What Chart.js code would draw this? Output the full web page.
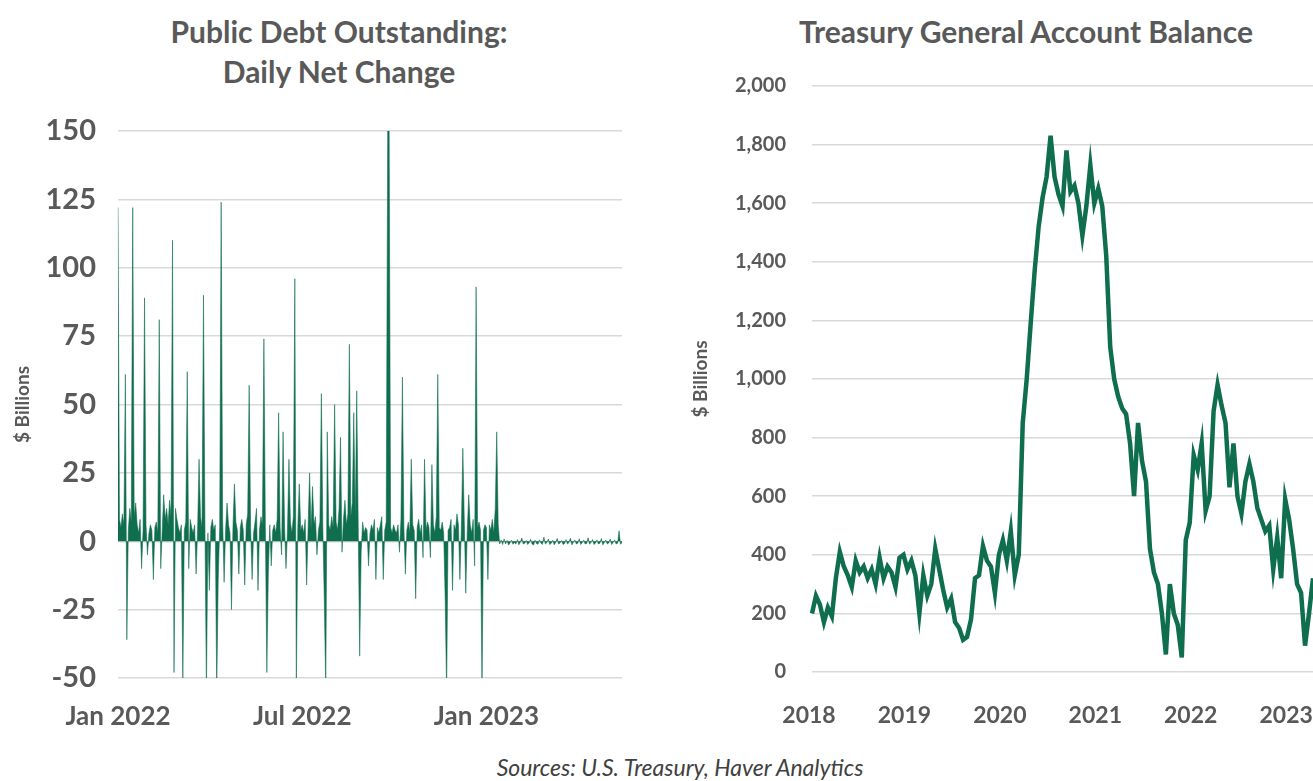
<!DOCTYPE html>
<html>
<head>
  <meta charset="UTF-8">
  <title>Public Debt Outstanding / Treasury General Account</title>
  <script src="https://cdn.jsdelivr.net/npm/chart.js@4.4.1/dist/chart.umd.min.js"></script>
  <style>
    html, body { margin: 0; padding: 0; background: #fff; overflow: hidden; }
    body { width: 1313px; height: 781px; position: relative; font-family: Lato, sans-serif; }
    .title { position: absolute; color: #595959; font-weight: bold; font-size: 30px; text-align: center; line-height: 40px; }
    #leftTitle { left: 119px; width: 440px; top: 11px; }
    #rightTitle { left: 756px; width: 540px; top: 11px; }
    #source { position: absolute; left: 330px; width: 700px; top: 753px; text-align: center;
              font-style: italic; font-size: 23px; color: #404040; }
    .box { position: absolute; top: 0; height: 740px; }
    #leftBox { left: 0; width: 640px; }
    #rightBox { left: 678px; width: 635px; }
  </style>
</head>
<body>
  <div class="title" id="leftTitle">Public Debt Outstanding:<br>Daily Net Change</div>
  <div class="title" id="rightTitle">Treasury General Account Balance</div>
  <div class="box" id="leftBox"><canvas id="debtChart"></canvas></div>
  <div class="box" id="rightBox"><canvas id="tgaChart"></canvas></div>
  <div id="source">Sources: U.S. Treasury, Haver Analytics</div>

  <script>
    // public debt outstanding, daily net change ($ billions), one list per month
    const debtMonths = ['Jan 2022', 'Feb 2022', 'Mar 2022', 'Apr 2022', 'May 2022', 'Jun 2022',
                        'Jul 2022', 'Aug 2022', 'Sep 2022', 'Oct 2022', 'Nov 2022', 'Dec 2022',
                        'Jan 2023', 'Feb 2023', 'Mar 2023', 'Apr 2023', 'May 2023'];
    const jan22 = [122, 8, 5, 10, 6, 61, -36, 4, 12, 7, 122, 9, 14, 6, 3, 8, -10, 4, 89, 6];
    const feb22 = [-5, 3, 6, 4, -14, 5, 7, 3, 81, -10, 4, 17, 8, 12, 6, 15, 9, 110, -48];
    const mar22 = [12, 8, 5, 3, 6, -52, 4, 7, 62, -10, 8, 5, 3, 6, -12, 4, 30, 9, 5, 90, 6, -55, 3];
    const apr22 = [-18, 5, 8, 4, 6, -55, -14, 5, 124, 8, -15, 4, 14, 6, 3, -25, 5, 21, 7, 4, -12];
    const may22 = [5, 8, 4, -16, 6, 10, 57, 5, -14, 3, 7, 12, -18, 4, 9, 6, 74, 5, -48, -12, 6];
    const jun22 = [-9, 4, 6, 3, 8, 47, 5, -5, 40, 6, -10, 4, 30, 7, 3, 9, 96, -55, 5, 21, 4];
    const jul22 = [6, 3, 8, -16, 5, 25, 4, 20, 6, 9, -5, 4, 7, 54, 5, -22, -55, 40, 6, 4];
    const aug22 = [9, 5, 50, 7, 4, 12, 38, -4, 8, 15, 6, 10, 72, 9, 14, 47, 8, 55, 6, -42, -4, 7, 3];
    const sep22 = [5, 4, -9, 3, 6, 4, 8, -14, 5, 3, 6, 9, -14, 4, 7, 150, 150, 5, 3, 6, 4];
    const oct22 = [3, 6, -4, 8, 60, 5, -12, 4, 7, 3, 30, 6, 4, -21, 5, 8, 3, 6, -6, 30];
    const nov22 = [4, 7, 5, -6, 28, 6, 3, 9, 61, 5, 4, 7, 3, -21, -55, 4, 5, 8, -18, 6];
    const dec22 = [4, 10, 6, -14, 5, 34, 7, -19, 4, 17, 6, 3, 8, -9, 93, 5, 7, 4, -55, 4, 6];
    const jan23 = [5, -14, 6, 4, 8, 3, 12, 40, 6, -1, 0.5, -1.2, 0.8, -1, 0.3, -1.4, -0.6, 0.4, -1.1, -0.5];
    const feb23 = [-1, 0.6, -1.3, -0.4, 1.2, -1, -0.7, 0.3, -1.2, -0.5, 0.7, -1, -1.4, 0.4, -0.8, -1.1, 0.5, -0.6, -1.2];
    const mar23 = [1.5, -1, -0.5, 0.8, -1.2, -0.7, 0.4, -1.3, -0.4, 1, -1, -0.6, 0.3, -1.2, -0.8, 0.6, -1, -0.5, 1.1, -1.3, -0.4, 0.5, -1];
    const apr23 = [-0.7, 0.9, -1.2, -0.5, 0.4, -1, -0.8, 1.3, -1.1, -0.4, 0.6, -1.2, -0.6, 0.5, -1, -0.7, 1, -1.3, -0.5, 0.4];
    const may23 = [-1, -0.6, 0.8, -1.2, -0.4, 0.5, -1, -0.7, 3.8, -1.1, -0.5];
    const debtByMonth = [jan22, feb22, mar22, apr22, may22, jun22, jul22, aug22, sep22, oct22, nov22, dec22,
                         jan23, feb23, mar23, apr23, may23];
    const debtTicks = ['Jan 2022', 'Jul 2022', 'Jan 2023'];

    // treasury general account balance ($ billions), twice a month
    const tgaYears = ['2018', '2019', '2020', '2021', '2022', '2023'];
    const tga2018 = [200, 260, 230, 170, 220, 190, 320, 410, 360, 330, 290, 380, 340, 360, 320, 350, 300, 390, 320, 360, 340, 290, 390, 400];
    const tga2019 = [350, 380, 330, 200, 330, 260, 300, 420, 350, 280, 220, 250, 170, 150, 110, 120, 180, 320, 330, 430, 380, 360, 270, 400];
    const tga2020 = [450, 380, 480, 330, 400, 850, 1000, 1190, 1370, 1520, 1620, 1690, 1830, 1690, 1630, 1590, 1780, 1640, 1660, 1600, 1490, 1590, 1730, 1600];
    const tga2021 = [1650, 1590, 1420, 1110, 1000, 940, 900, 880, 780, 600, 850, 720, 650, 420, 340, 300, 200, 60, 300, 200, 160, 50, 450, 510];
    const tga2022 = [740, 690, 780, 550, 600, 890, 980, 910, 850, 630, 780, 600, 540, 650, 710, 650, 560, 520, 480, 500, 350, 460, 320, 590];
    const tga2023 = [520, 420, 300, 270, 90, 200, 320];
    const tgaByYear = [tga2018, tga2019, tga2020, tga2021, tga2022, tga2023];

    const green = '#0f6e4d';
    const grey = '#595959';
    Chart.defaults.font.family = 'Lato, sans-serif';
    Chart.defaults.color = grey;

    // flatten the month / year lists; first point of each period carries its name
    const debtLabels = [], debtValues = [];
    debtByMonth.forEach(function(vals, m) {
      vals.forEach(function(v, d) {
        debtLabels.push(d === 0 ? debtMonths[m] : '');
        debtValues.push(v);
      });
    });
    const tgaLabels = [], tgaValues = [];
    tgaByYear.forEach(function(vals, y) {
      vals.forEach(function(v, k) {
        tgaLabels.push(k === 0 ? tgaYears[y] : '');
        tgaValues.push(v);
      });
    });

    // fixed axis box sizes; drop the side padding the x axis asks for
    function fixX(h) {
      return function(s) { s.height = h; s.paddingLeft = 0; s.paddingRight = 0; };
    }

    new Chart(document.getElementById('debtChart'), {
      type: 'line',
      data: {
        labels: debtLabels,
        datasets: [{
          data: debtValues,
          borderColor: 'rgba(15,110,77,0.8)',
          backgroundColor: green,
          borderWidth: 0.7,
          fill: 'origin',
          pointRadius: 0,
          tension: 0
        }]
      },
      options: {
        responsive: true,
        maintainAspectRatio: false,
        animation: false,
        layout: { padding: { top: 131, right: 18, bottom: 0, left: 0 } },
        plugins: { legend: { display: false }, tooltip: { enabled: false } },
        scales: {
          x: {
            grid: { display: false, drawTicks: false },
            border: { display: false },
            afterFit: fixX(62),
            ticks: {
              autoSkip: false, maxRotation: 0, minRotation: 0, padding: 23,
              font: { size: 26, weight: 'bold' },
              callback: function(value) {
                const l = this.getLabelForValue(value);
                return debtTicks.includes(l) ? l : '';
              }
            }
          },
          y: {
            min: -50, max: 150,
            grid: { color: '#d9d9d9', lineWidth: 1.5, drawTicks: false },
            border: { display: false },
            afterFit: function(s) { s.width = 118; },
            ticks: { stepSize: 25, padding: 22, font: { size: 29, weight: 'bold' } },
            title: { display: true, text: '$ Billions', padding: { top: 11, bottom: 0 },
                     font: { size: 19, weight: 'bold' } }
          }
        }
      }
    });

    new Chart(document.getElementById('tgaChart'), {
      type: 'line',
      data: {
        labels: tgaLabels,
        datasets: [{
          data: tgaValues,
          borderColor: green,
          borderWidth: 4.5,
          fill: false,
          pointRadius: 0,
          tension: 0
        }]
      },
      options: {
        responsive: true,
        maintainAspectRatio: false,
        animation: false,
        layout: { padding: { top: 86, right: 0, bottom: 0, left: 0 } },
        plugins: { legend: { display: false }, tooltip: { enabled: false } },
        scales: {
          x: {
            grid: { display: false, drawTicks: false },
            border: { display: false },
            afterFit: fixX(68),
            ticks: {
              autoSkip: false, maxRotation: 0, minRotation: 0, padding: 30, labelOffset: -3,
              font: { size: 23, weight: 'bold' },
              callback: function(value) { return this.getLabelForValue(value); }
            }
          },
          y: {
            min: 0, max: 2000,
            grid: { color: '#d9d9d9', lineWidth: 1.5, drawTicks: false },
            border: { display: false },
            afterFit: function(s) { s.width = 134; },
            ticks: { stepSize: 200, padding: 26, font: { size: 20, weight: 'bold' } },
            title: { display: true, text: '$ Billions', padding: { top: 11, bottom: 0 },
                     font: { size: 19, weight: 'bold' } }
          }
        }
      }
    });
  </script>
</body>
</html>
